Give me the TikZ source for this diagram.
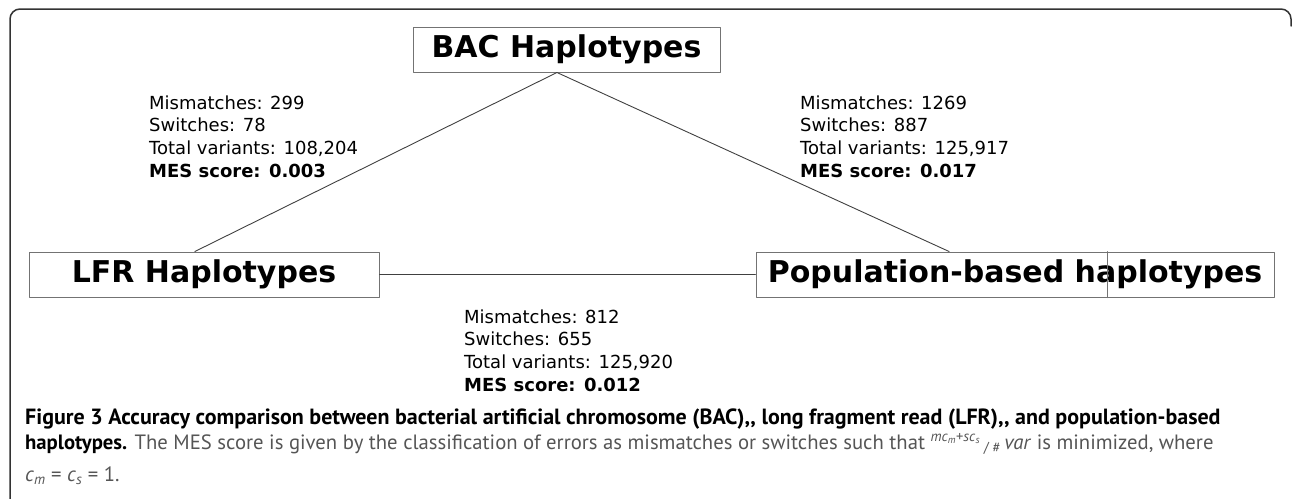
\documentclass[tikz,border=0pt]{standalone}
\usepackage{fontspec}
\usepackage{tikz}
\usetikzlibrary{calc}
\setmainfont{DejaVu Sans}
\newfontfamily\capfont{PT Sans}
\definecolor{capgray}{HTML}{555555}
\definecolor{framegray}{HTML}{333333}
\tikzset{
  hapbox/.style={draw=black!55, line width=1pt, inner sep=0pt, minimum height=45pt,
    font=\fontsize{30}{36}\selectfont\bfseries},
  stats/.style={anchor=north west, inner sep=0pt, align=left,
    font=\fontsize{18}{22.7}\selectfont},
  link/.style={draw=black!75, line width=0.9pt},
  capline/.style={anchor=base west, inner sep=0pt, font=\capfont\fontsize{22}{26}\selectfont},
  capbody/.style={capline, font=\capfont\fontsize{20.7}{25}\selectfont},
  every picture/.append style={line join=round, line cap=round}
}

\begin{document}
\begin{tikzpicture}[x=1pt,y=-1pt]
  \useasboundingbox (0,0) rectangle (1292,498);
  \draw [framegray, line width=1.5pt, rounded corners=10pt] (10,505) -- (10,9) -- (1291,9) -- (1291,26);

  \node [hapbox, minimum width=307pt] (bac) at (566.5,49.5) {BAC Haplotypes};
  \node [hapbox, minimum width=350pt] (lfr) at (204,274.5) {LFR Haplotypes};
  \node [hapbox, minimum width=518pt] (pop) at (1015,274.5) {Population-based haplotypes};
  \draw [black!55, line width=1pt] ($(pop.north west)!0.678!(pop.north east)$)
    -- ($(pop.south west)!0.678!(pop.south east)$);

  % connectors
  \draw [link] ($(bac.south west)!0.469!(bac.south east)$) -- ($(lfr.north west)!0.474!(lfr.north east)$);
  \draw [link] ($(bac.south west)!0.469!(bac.south east)$) -- ($(pop.north west)!0.373!(pop.north east)$);
  \draw [link] (lfr.east) -- (pop.west);

  \node [stats] (bac-lfr) at (149,95.3) {Mismatches: 299\\Switches: 78\\Total variants: 108,204\\\textbf{MES score: 0.003}};
  \node [stats] (bac-pop) at (800,95.3) {Mismatches: 1269\\Switches: 887\\Total variants: 125,917\\\textbf{MES score: 0.017}};
  \node [stats] (lfr-pop) at (464,309.3) {Mismatches: 812\\Switches: 655\\Total variants: 125,920\\\textbf{MES score: 0.012}};

  % caption
  \node [capline] (cap1) at (25,424) {\textbf{Figure 3 Accuracy comparison between bacterial artificial chromosome (BAC),, long fragment read (LFR),, and population-based}};
  \node [capbody] (cap2) at (25,449) {\textbf{haplotypes.} \textcolor{capgray}{The MES score is given by the classification of errors as mismatches or switches such that
    \textsuperscript{\textit{mc}\textsubscript{\textit{m}}+\textit{sc}\textsubscript{\textit{s}}}\,\raisebox{-0.3ex}{\Large/}\,\textsubscript{\#}\,\textit{var} is minimized, where}};
  \node [capbody, text=capgray] (cap3) at (25,481) {\textit{c}\textsubscript{\textit{m}} = \textit{c}\textsubscript{\textit{s}} = 1.};
\end{tikzpicture}
\end{document}
